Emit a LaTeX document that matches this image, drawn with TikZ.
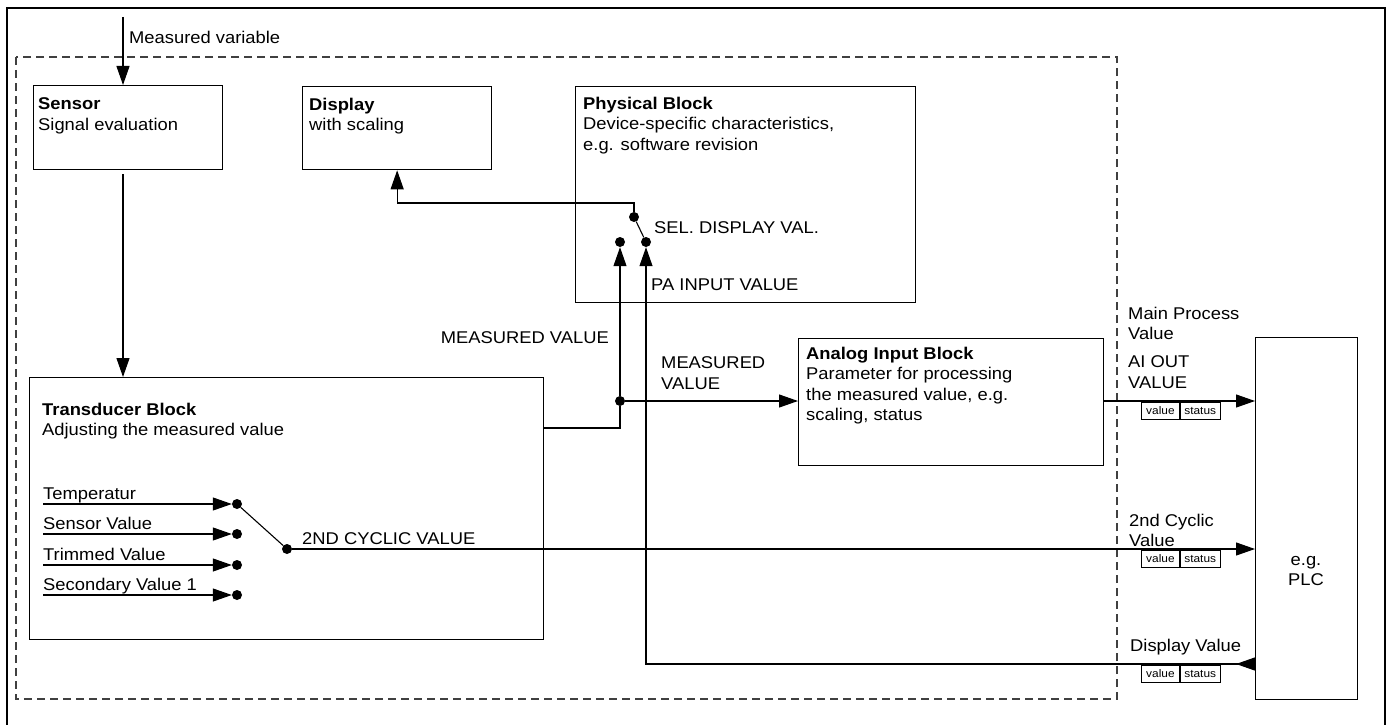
\documentclass[tikz,border=0pt]{standalone}
\usepackage{fontspec}
\setmainfont[FakeStretch=1.08]{Liberation Sans}
\usetikzlibrary{positioning, arrows.meta, calc}
\newcommand{\txtsz}{\fontsize{17}{20.5}\selectfont}
\newcommand{\cellsz}{\fontsize{11}{12}\selectfont}

\begin{document}
\begin{tikzpicture}[x=1pt, y=-1pt,
  blk/.style={draw, line width=1.3pt, anchor=north west, inner sep=0pt},
  txt/.style={inner sep=0pt, align=left, font=\txtsz},
  dot/.style={circle, fill, inner sep=0pt, minimum size=10pt},
  wire/.style={line width=1.1pt},
  sig/.style={wire, -{Triangle[length=19pt, width=13pt]}},
  backsig/.style={wire, {Triangle[reversed, length=19pt, width=13pt]}-{Triangle[length=19pt, width=13pt]}},
  cell/.style={draw, line width=0.8pt, inner sep=0pt, minimum height=17pt, anchor=north west, font=\cellsz}]
  \useasboundingbox (0,0) rectangle (1394,725);

  % Frame
  \draw[line width=1.3pt] (7,725) -- (7,8) -- (1385,8) -- (1385,725);
  \draw[line width=1.1pt, black!75, dash pattern=on 8pt off 5pt] (16,57) rectangle (1117,699);

  % --- Blocks ---
  \node[blk, minimum width=189pt, minimum height=84pt] (sensor) at (33,85) {};
  \node[txt, anchor=north west] (sensortxt) at (38,97.5) {\textbf{Sensor}\\Signal evaluation};

  \node[blk, minimum width=189pt, minimum height=83pt] (disp) at (302,86) {};
  \node[txt, anchor=north west] (disptxt) at (309,97.5) {\textbf{Display}\\with scaling};

  \node[blk, minimum width=340pt, minimum height=216pt] (phys) at (575,86) {};
  \node[txt, anchor=north west] (phystxt) at (583,96.5) {\textbf{Physical Block}\\Device-specific characteristics,\\e.g. software revision};

  \node[blk, minimum width=305pt, minimum height=127pt] (ai) at (798,338) {};
  \node[txt, anchor=north west] (aitxt) at (806,346.5) {\textbf{Analog Input Block}\\Parameter for processing\\the measured value, e.g.\\scaling, status};

  \node[blk, minimum width=514pt, minimum height=262pt] (tb) at (29,377) {};
  \node[txt, anchor=north west] (tbtxt) at (42,402.5) {\textbf{Transducer Block}\\Adjusting the measured value};

  \node[blk, minimum width=102pt, minimum height=362pt] (plc) at (1255,337) {};
  \node[txt, align=center] (plctxt) at (1306,571) {e.g.\\PLC};

  % --- Measured variable ---
  \coordinate (mvin) at (123,17);
  \draw[sig] (mvin) -- (mvin |- sensor.north);
  \node[txt, anchor=base west] (mvtxt) at (129,44) {Measured variable};
  \draw[sig] ([yshift=-4pt]mvin |- sensor.south) -- (mvin |- tb.north);

  % --- Transducer switch ---
  \node[dot] (tc) at (287,549) {};
  \foreach \y/\n/\lab in {504/1/Temperatur, 534/2/Sensor Value, 565/3/Trimmed Value, 595/4/Secondary Value 1} {
    \coordinate (in\n) at (43,\y);
    \node[dot] (t\n) at (237,\y) {};
    \draw[sig] (in\n) -- (t\n);
    \node[txt, anchor=base west] (lab\n) at (43,\y-5) {\lab};
  }
  \draw[wire] (t1) -- (tc);
  \node[txt, anchor=base west] (cyctxt) at (302,544) {2ND CYCLIC VALUE};

  % --- Physical block switch ---
  \node[dot] (pc) at (634,217) {};
  \node[dot] (pm) at (620,242) {};
  \node[dot] (pp) at (646,242) {};
  \draw[wire] (pc) -- (pp);
  \coordinate (dbend) at (634,203);
  \draw[sig] (pc) -- (dbend) -| (disp.south);
  \node[txt, anchor=base west] (seltxt) at (654,233) {SEL. DISPLAY VAL.};
  \node[txt, anchor=base west] (patxt) at (651,290) {PA INPUT VALUE};

  % --- Measured value ---
  \node[dot] (jm) at (620,401) {};
  \coordinate (tbout) at (543,428);
  \draw[wire] (tbout) -| (jm);
  \draw[sig] (jm) -- (pm);
  \draw[sig] (jm) -- (ai.west |- jm);
  \node[txt, anchor=base east] (mv1txt) at (609,343) {MEASURED VALUE};
  \node[txt, anchor=north west] (mv2txt) at (661,356.5) {MEASURED\\VALUE};

  % --- Outputs to PLC ---
  \draw[sig] (ai.east |- jm) -- (plc.west |- jm);
  \draw[sig] (tc) -- (tc -| plc.west);
  \coordinate (dvline) at (646,664);
  \draw[backsig] (dvline -| plc.west) -- (dvline) -- (pp);

  \node[txt, anchor=north west] (mptxt) at (1128,306.5) {Main Process\\Value};
  \node[txt, anchor=north west] (aotxt) at (1128,355.5) {AI OUT\\VALUE};
  \node[txt, anchor=north west] (c2txt) at (1129,513.5) {2nd Cyclic\\Value};
  \node[txt, anchor=base west] (dvtxt) at (1130,651) {Display Value};

  % value / status cells
  \foreach \y/\n in {402/a, 550/b, 665/c} {
    \node[cell, minimum width=38pt] (val\n) at (1141,\y) {value};
    \node[cell, minimum width=40pt] (st\n) at (val\n.north east) {status};
  }
\end{tikzpicture}
\end{document}
